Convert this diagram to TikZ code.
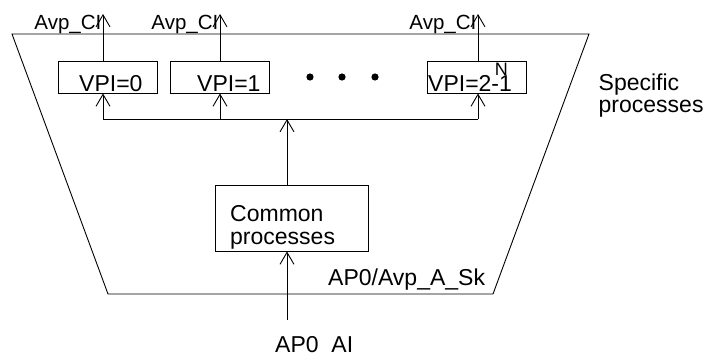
\documentclass[tikz,border=0pt]{standalone}
\usepackage{fontspec}
\setmainfont{Liberation Sans}
\usetikzlibrary{arrows.meta}
\begin{document}
\begin{tikzpicture}[x=1pt,y=-1pt,
  ln/.style={line width=0.9pt},
  arr/.style={ln,-{Straight Barb[length=12pt,width=14pt,line width=0.9pt]}},
  boxs/.style={draw,ln,minimum width=99pt,minimum height=32pt,inner sep=0pt},
  txt/.style={inner sep=0pt,anchor=base west,font=\fontsize{23}{22.7}\selectfont},
  lbl/.style={inner sep=0pt,anchor=base east,font=\fontsize{20.5}{20}\selectfont}]
\useasboundingbox (0,0) rectangle (707,353);
% trapezoid
\draw[ln] (12,34) -- (589,34) -- (493,294) -- (108,294) -- cycle;
% VPI boxes
\node[boxs] (v0) at (107.5,77) {};
\node[boxs] (v1) at (219.5,77) {};
\node[boxs] (vn) at (476.5,77) {};
\node[txt] (t0) at (79,91.5) {VPI=0};
\node[txt] (t1) at (197,91.5) {VPI=1};
\node[txt] (tn) at (428,91.5) {VPI=2\rlap{\hspace{3.5pt}\raisebox{16.5pt}{\fontsize{18}{18}\selectfont N}}-1};
% dots
\fill (310,77) circle (3.6);
\fill (342,77) circle (3.6);
\fill (375,77) circle (3.6);
% common box
\node[draw,ln,minimum width=153pt,minimum height=66pt,inner sep=0pt] (cp) at (291.5,218) {};
\node[txt,align=left,anchor=base west] (ct) at (230,244.5) {Common\\processes};
% outputs
\coordinate (o0) at (103,14);
\coordinate (o1) at (220,14);
\coordinate (on) at (478,14);
\draw[arr] (v0.north -| o0) -- (o0);
\draw[arr] (v1.north -| o1) -- (o1);
\draw[arr] (vn.north -| on) -- (on);
\node[lbl] (l0) at (101.5,30) {Avp\_CI};
\node[lbl] (l1) at (218.5,30) {Avp\_CI};
\node[lbl] (ln) at (476.5,30) {Avp\_CI};
% distribution
\coordinate (d0) at (103,119);
\coordinate (d1) at (220,119);
\coordinate (dn) at (478,119);
\coordinate (dj) at (287,119);
\draw[ln] (d0) -- (dn);
\draw[arr] (d0) -- (v0.south -| d0);
\draw[arr] (d1) -- (v1.south -| d1);
\draw[arr] (dn) -- (vn.south -| dn);
\draw[arr] (cp.north -| dj) -- (dj);
% input
\coordinate (in) at (287,320);
\draw[arr] (in) -- (cp.south -| in);
% labels
\node[txt] (sk) at (328,285.7) {AP0/Avp\_A\_Sk};
\node[txt] (ai) at (275,352) {AP0\_AI};
\node[txt,align=left] (sp) at (598.5,112.7) {Specific\\processes};
\end{tikzpicture}
\end{document}
